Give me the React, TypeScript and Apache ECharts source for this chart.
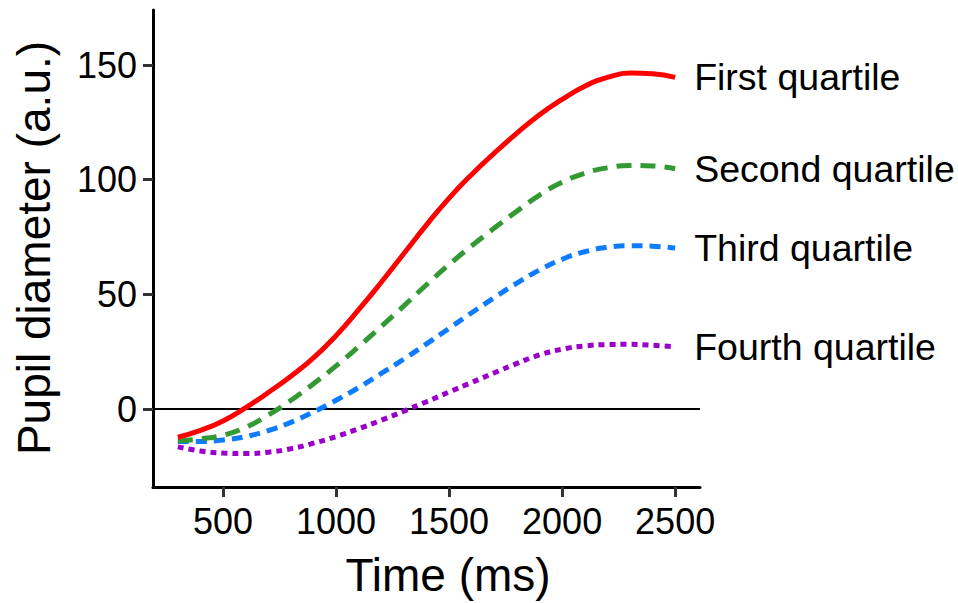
import React, { useEffect, useRef } from "react";
import * as echarts from "echarts";

const times = [300, 400, 500, 600, 700, 800, 900, 1000, 1100, 1200, 1300, 1400, 1500, 1600, 1700, 1800, 1900, 2000, 2100, 2200, 2300, 2400, 2500];

const firstQuartile = [-12.3, -9.3, -5.2, 0.6, 7.2, 14.3, 22.3, 32, 43.3, 55.3, 67.8, 80.3, 92, 102.3, 111.6, 120.3, 128.3, 135, 140.8, 144.6, 146.5, 146.2, 144.6];
const secondQuartile = [-13.8, -13.0, -11.4, -8.0, -2.6, 3.8, 11.0, 18.8, 27.2, 36, 45, 54.2, 63, 71.2, 78.9, 86.3, 93.3, 98.9, 102.8, 105.2, 106.2, 106, 104.8];
const thirdQuartile = [-14.2, -14.2, -13.5, -12.0, -9.4, -5.8, -1.3, 3.8, 9.4, 15.5, 21.8, 28.4, 35.2, 42, 48.6, 54.9, 60.6, 65.3, 68.6, 70.5, 71.2, 71, 70.2];
const fourthQuartile = [-16.5, -18.3, -19.2, -19.4, -18.8, -17.3, -14.9, -12.0, -8.6, -4.9, -0.9, 3.2, 7.4, 11.6, 15.8, 19.9, 23.6, 26.1, 27.5, 28.1, 28.2, 27.8, 27.1];

const seriesNames = ["First quartile", "Second quartile", "Third quartile", "Fourth quartile"];
const xTicks = [500, 1000, 1500, 2000, 2500];
const yTicks = [0, 50, 100, 150];

const FONT = "'Liberation Sans', Arial, Helvetica, sans-serif";

export default function App() {
  const ref = useRef<HTMLDivElement>(null);
  useEffect(() => {
    if (!ref.current) return;
    const chart = echarts.init(ref.current, null, { renderer: "svg" });
    const values = [firstQuartile, secondQuartile, thirdQuartile, fourthQuartile];
    const colors = ["#FF0000", "#339933", "#0F7BFF", "#9900CC"];
    const dashes: any[] = ["solid", [15, 9], [11, 7], [6, 5]];
    const series: any[] = values.map((vals, i) => ({
      name: seriesNames[i],
      type: "line",
      data: times.map((t, j) => [t, vals[j]]),
      showSymbol: false,
      smooth: 0.5,
      z: 10 - i,
      lineStyle: { color: colors[i], width: 5, type: dashes[i], cap: "butt" },
      itemStyle: { color: colors[i] },
      endLabel: {
        show: true,
        formatter: "{a}",
        distance: 19,
        fontSize: 37.5,
        color: "#000",
        fontFamily: FONT,
      },
      emphasis: { disabled: true },
    }));
    series[0].markLine = {
      silent: true,
      symbol: ["none", "none"],
      label: { show: false },
      lineStyle: { color: "#000", width: 2, type: "solid" },
      data: [{ yAxis: 0 }],
      z: 1,
    };
    chart.setOption({
      animation: false,
      backgroundColor: "#fff",
      grid: { left: 153, right: 258, top: 10, bottom: 116, containLabel: false },
      xAxis: {
        type: "value",
        min: 190,
        max: 2610,
        splitLine: { show: false },
        axisLine: { show: true, onZero: false, lineStyle: { color: "#000", width: 3 } },
        axisTick: { show: true, length: 10, customValues: xTicks, lineStyle: { color: "#333", width: 3 } },
        axisLabel: {
          customValues: xTicks,
          fontSize: 36,
          color: "#000",
          fontFamily: FONT,
          margin: 16,
          formatter: (v: number) => String(v),
        },
      },
      yAxis: {
        type: "value",
        min: -34,
        max: 174,
        splitLine: { show: false },
        axisLine: { show: true, onZero: false, lineStyle: { color: "#000", width: 3 } },
        axisTick: { show: true, length: 10, customValues: yTicks, lineStyle: { color: "#333", width: 3 } },
        axisLabel: {
          customValues: yTicks,
          fontSize: 36,
          color: "#000",
          fontFamily: FONT,
          margin: 16,
          formatter: (v: number) => String(v),
        },
      },
      graphic: [
        {
          type: "text",
          x: 448,
          y: 575,
          style: {
            text: "Time (ms)",
            fontSize: 46,
            fontFamily: FONT,
            fill: "#000",
            align: "center",
            verticalAlign: "middle",
          },
        },
        {
          type: "text",
          x: 34,
          y: 248,
          rotation: Math.PI / 2,
          style: {
            text: "Pupil diameter (a.u.)",
            fontSize: 46,
            fontFamily: FONT,
            fill: "#000",
            align: "center",
            verticalAlign: "middle",
          },
        },
      ],
      series,
    });
    return () => chart.dispose();
  }, []);
  return (
    <div
      ref={ref}
      style={{ position: "absolute", left: 0, top: 0, width: 958, height: 603, background: "#fff" }}
    />
  );
}
